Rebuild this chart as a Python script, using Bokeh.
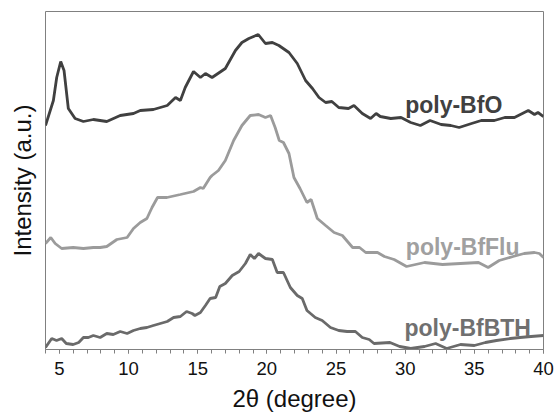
from bokeh.plotting import figure
from bokeh.models import Range1d, FixedTicker, Label
from bokeh.embed import file_html
from bokeh.resources import INLINE

# ---- data (intensity in arbitrary units) ----
tt_bfo = [4.0, 4.57, 4.81, 5.1, 5.34, 5.65, 6.14, 6.74, 7.46, 8.43, 9.4, 10.36, 10.85,
          11.8, 12.8, 13.4, 13.75, 14.1, 14.7, 15.2, 15.56, 16.04, 17.0, 17.73, 18.2,
          18.7, 19.38, 19.9, 20.4, 20.87, 21.6, 22.2, 22.8, 23.3, 23.77, 24.25, 24.7,
          25.2, 25.9, 26.3, 26.9, 27.5, 27.9, 28.2, 28.96, 29.7, 30.4, 31.1, 31.8,
          32.6, 33.3, 33.9, 34.8, 35.5, 36.45, 37.2, 37.9, 38.9, 39.35, 39.6, 40.0]
int_bfo = [224, 249, 272, 288, 279, 241, 231, 228, 230, 228, 234, 236, 239,
           240, 244, 252, 249, 262, 278, 272, 276, 272, 281, 299, 307,
           311, 315, 306, 307, 304, 297, 286, 269, 261, 252, 247, 248,
           242, 241, 244, 236, 231, 236, 233, 231, 232, 227, 224, 229,
           225, 224, 222, 226, 229, 229, 232, 232, 239, 235, 237, 233]

tt_bfflu = [4.0, 4.38, 4.7, 5.17, 6.0, 6.74, 7.46, 7.95, 8.43, 9.16, 9.9, 10.36, 10.85,
            11.33, 11.7, 12.1, 12.78, 13.75, 14.7, 15.2, 15.4, 15.9, 16.04, 16.5, 17.0,
            17.6, 18.2, 18.8, 19.4, 19.9, 20.27, 20.6, 20.9, 21.2, 21.6, 21.96, 22.4,
            22.9, 23.2, 23.65, 24.25, 24.86, 25.46, 26.2, 26.7, 27.15, 28.0, 28.5, 29.2,
            30.1, 31.4, 32.7, 34.0, 35.3, 36.0, 36.8, 37.8, 38.6, 39.35, 39.7, 40.0]
int_bfflu = [106, 112, 106, 101, 102, 101, 102, 102, 103, 110, 112, 121, 127,
             131, 142, 152, 152, 155, 158, 162, 161, 172, 174, 179, 189,
             209, 224, 234, 235, 232, 234, 222, 209, 207, 196, 172, 161,
             147, 150, 131, 124, 117, 114, 102, 102, 97, 97, 93, 90,
             83, 87, 85, 86, 87, 82, 89, 93, 96, 97, 96, 92]

tt_bfbth = [4.0, 4.45, 4.8, 5.17, 5.5, 6.0, 6.4, 6.74, 7.1, 7.46, 7.95, 8.43, 8.9,
            9.4, 9.9, 10.36, 10.85, 11.33, 11.8, 12.3, 12.8, 13.26, 13.75, 14.2, 14.6,
            14.8, 15.2, 15.56, 15.9, 16.3, 16.6, 17.0, 17.5, 18.0, 18.45, 18.8, 19.1,
            19.4, 19.9, 20.4, 20.75, 21.2, 21.7, 22.2, 22.56, 22.9, 23.5, 24.0, 24.6,
            25.2, 25.8, 26.4, 26.9, 27.4, 27.75, 28.9, 29.6, 30.4, 31.4, 32.2, 33.0,
            34.0, 35.0, 35.8, 36.6, 37.6, 38.3, 39.1, 40.0]
int_bfbth = [2, 11, 9, 11, 6, 5, 7, 12, 12, 14, 12, 16, 15,
             18, 16, 19, 21, 22, 24, 26, 28, 32, 33, 38, 36,
             34, 37, 44, 51, 52, 63, 66, 74, 78, 86, 95, 91,
             96, 91, 90, 77, 77, 62, 54, 51, 39, 32, 29, 22,
             19, 18, 18, 12, 10, 6, 7, 3, 1, 3, 6, 1,
             5, 4, 7, 9, 11, 12, 13, 14]

series_names = ["poly-BfO", "poly-BfFlu", "poly-BfBTH"]
x_ticks = [5, 10, 15, 20, 25, 30, 35, 40]
x_minor_ticks = list(range(4, 41))
x_title = "2θ (degree)"
y_title = "Intensity (a.u.)"

FONT = "Liberation Sans"

# ---- figure ----
p = figure(frame_width=498, frame_height=338, x_range=Range1d(4, 40), y_range=Range1d(0, 338),
           output_backend="svg", toolbar_location=None,
           min_border_left=45, min_border_right=12, min_border_top=11, min_border_bottom=71)
p.background_fill_color = "white"
p.border_fill_color = "white"
p.outline_line_color = "#808080"
p.outline_line_width = 1
p.xgrid.visible = False
p.ygrid.visible = False

xa = p.xaxis[0]
xa.ticker = FixedTicker(ticks=x_ticks, minor_ticks=x_minor_ticks)
xa.axis_line_color = "#808080"
xa.major_tick_line_color = "#808080"
xa.minor_tick_line_color = "#808080"
xa.major_tick_in = 0
xa.major_tick_out = 4
xa.minor_tick_in = 0
xa.minor_tick_out = 4
xa.major_label_text_font = FONT
xa.major_label_text_font_size = "18.5px"
xa.major_label_text_color = "#111111"
xa.major_label_standoff = 8
xa.axis_label = x_title
xa.axis_label_text_font = FONT
xa.axis_label_text_font_size = "24px"
xa.axis_label_text_font_style = "normal"
xa.axis_label_text_color = "#111111"
xa.axis_label_standoff = 7

ya = p.yaxis[0]
ya.ticker = FixedTicker(ticks=[])
ya.axis_line_color = None
ya.major_tick_line_color = None
ya.minor_tick_line_color = None
ya.major_tick_out = 0
ya.major_tick_in = 0
ya.minor_tick_out = 0
ya.major_label_standoff = 0
ya.major_label_text_font_size = "0px"
ya.axis_label = y_title
ya.axis_label_text_font = FONT
ya.axis_label_text_font_size = "24px"
ya.axis_label_text_font_style = "normal"
ya.axis_label_text_color = "#111111"
ya.axis_label_standoff = 10

colors = ["#404040", "#9b9b9b", "#6a6a6a"]
label_colors = ["#404040", "#a0a0a0", "#707070"]
p.line(tt_bfo, int_bfo, line_color=colors[0], line_width=2.8)
p.line(tt_bfflu, int_bfflu, line_color=colors[1], line_width=2.8)
p.line(tt_bfbth, int_bfbth, line_color=colors[2], line_width=2.8)

label_pos = [(30.0, 245), (30.05, 103), (29.95, 21.5)]
for name, (lx, ly), c in zip(series_names, label_pos, label_colors):
    p.add_layout(Label(x=lx, y=ly, text=name, text_font=FONT, text_font_size="23px",
                       text_font_style="bold", text_color=c, text_baseline="alphabetic",
                       text_align="left"))

open("out.html", "w").write(file_html(p, INLINE))
